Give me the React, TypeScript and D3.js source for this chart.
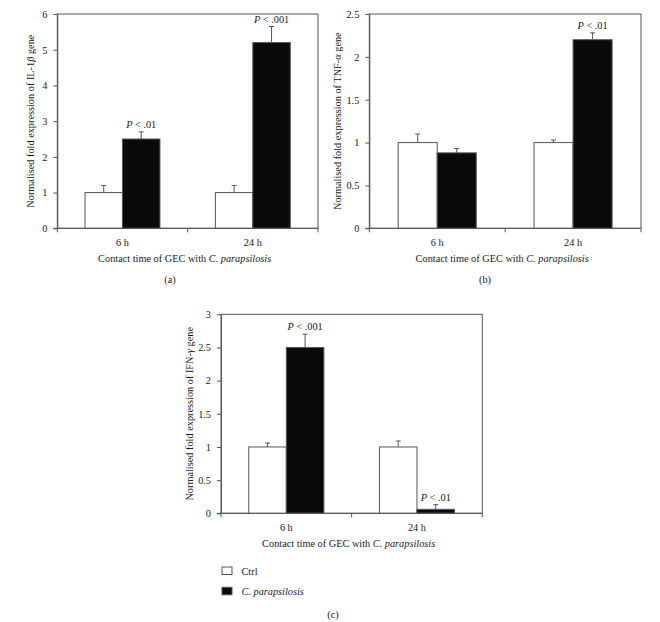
import { useEffect, useRef } from "react";
import * as d3 from "d3";

const WIDTH = 660;
const HEIGHT = 622;
const FONT = "Liberation Serif";
const FONT_SIZE = 10.3;
const LINE_COLOR = "#555555";
const TEXT_COLOR = "#1a1a1a";
const BAR_DARK = "#0a0a0c";
const BAR_LIGHT = "#ffffff";
const TICK_SIZE = 4;
const CAP_HALF = 2.5;

const CATEGORIES = ["6 h", "24 h"];
const SERIES = ["Ctrl", "C. parapsilosis"];
const X_TITLE = "Contact time of GEC with ";
const X_TITLE_ITALIC = "C. parapsilosis";

// (a) IL-1 beta
const IL1B_CTRL = [1, 1];
const IL1B_CTRL_ERR = [0.2, 0.2];
const IL1B_CP = [2.5, 5.2];
const IL1B_CP_ERR = [0.2, 0.45];
const IL1B_P = [".01", ".001"];
const IL1B_TICKS = [0, 1, 2, 3, 4, 5, 6];

// (b) TNF alpha
const TNF_CTRL = [1, 1];
const TNF_CTRL_ERR = [0.1, 0.03];
const TNF_CP = [0.88, 2.2];
const TNF_CP_ERR = [0.05, 0.08];
const TNF_P = ["", ".01"];
const TNF_TICKS = [0, 0.5, 1, 1.5, 2, 2.5];

// (c) IFN gamma
const IFN_CTRL = [1, 1];
const IFN_CTRL_ERR = [0.06, 0.09];
const IFN_CP = [2.5, 0.06];
const IFN_CP_ERR = [0.2, 0.07];
const IFN_P = [".001", ".01"];
const IFN_TICKS = [0, 0.5, 1, 1.5, 2, 2.5, 3];

interface Panel {
  ctrl: number[];
  ctrlErr: number[];
  cp: number[];
  cpErr: number[];
  pLabels: string[];
  ticks: number[];
  gene: string;
  greek: string;
  caption: string;
  box: { left: number; top: number; right: number; bottom: number };
  labelX: number;
  captionX: number;
  captionY: number;
}

const PANELS: Panel[] = [
  {
    ctrl: IL1B_CTRL, ctrlErr: IL1B_CTRL_ERR, cp: IL1B_CP, cpErr: IL1B_CP_ERR,
    pLabels: IL1B_P, ticks: IL1B_TICKS, gene: "IL-1", greek: "β", caption: "(a)",
    box: { left: 57.3, top: 14, right: 318, bottom: 228.3 }, labelX: 30.5, captionX: 170, captionY: 282.5,
  },
  {
    ctrl: TNF_CTRL, ctrlErr: TNF_CTRL_ERR, cp: TNF_CP, cpErr: TNF_CP_ERR,
    pLabels: TNF_P, ticks: TNF_TICKS, gene: "TNF-", greek: "α", caption: "(b)",
    box: { left: 369.3, top: 14, right: 641, bottom: 228.3 }, labelX: 337, captionX: 485, captionY: 282.5,
  },
  {
    ctrl: IFN_CTRL, ctrlErr: IFN_CTRL_ERR, cp: IFN_CP, cpErr: IFN_CP_ERR,
    pLabels: IFN_P, ticks: IFN_TICKS, gene: "IFN-", greek: "γ", caption: "(c)",
    box: { left: 221, top: 314.3, right: 482.3, bottom: 513.3 }, labelX: 189, captionX: 333, captionY: 617.5,
  },
];

function drawPanel(svg: d3.Selection<SVGSVGElement, unknown, null, undefined>, p: Panel) {
  const { left, top, right, bottom } = p.box;
  const g = svg.append("g");

  const x = d3.scaleBand().domain(CATEGORIES).range([left, right]);
  const xs = d3
    .scaleBand()
    .domain(SERIES)
    .range([0, x.bandwidth()])
    .paddingOuter(0.74);
  const y = d3
    .scaleLinear()
    .domain([0, p.ticks[p.ticks.length - 1]])
    .range([bottom, top]);

  // frame
  g.append("rect")
    .attr("x", left)
    .attr("y", top)
    .attr("width", right - left)
    .attr("height", bottom - top)
    .attr("fill", "none")
    .attr("stroke", LINE_COLOR)
    .attr("stroke-width", 1);

  const rows = CATEGORIES.flatMap((c, i) => [
    { cat: c, s: SERIES[0], v: p.ctrl[i], e: p.ctrlErr[i], fill: BAR_LIGHT, pl: "" },
    { cat: c, s: SERIES[1], v: p.cp[i], e: p.cpErr[i], fill: BAR_DARK, pl: p.pLabels[i] },
  ]);
  const barCenter = (d: { cat: string; s: string }) =>
    (x(d.cat) as number) + (xs(d.s) as number) + xs.bandwidth() / 2;

  // error bars (up only)
  rows.forEach((d) => {
    const cx = barCenter(d);
    g.append("line")
      .attr("x1", cx).attr("x2", cx)
      .attr("y1", y(d.v)).attr("y2", y(d.v + d.e))
      .attr("stroke", LINE_COLOR);
    g.append("line")
      .attr("x1", cx - CAP_HALF).attr("x2", cx + CAP_HALF)
      .attr("y1", y(d.v + d.e)).attr("y2", y(d.v + d.e))
      .attr("stroke", LINE_COLOR);
  });

  g.selectAll("rect.bar")
    .data(rows)
    .enter()
    .append("rect")
    .attr("class", "bar")
    .attr("x", (d) => (x(d.cat) as number) + (xs(d.s) as number))
    .attr("y", (d) => y(d.v))
    .attr("width", xs.bandwidth())
    .attr("height", (d) => bottom - y(d.v))
    .attr("fill", (d) => d.fill)
    .attr("stroke", LINE_COLOR)
    .attr("stroke-width", 1);

  // P labels
  rows
    .filter((d) => d.pl)
    .forEach((d) => {
      const t = g
        .append("text")
        .attr("x", barCenter(d))
        .attr("y", y(d.v + d.e) - 4)
        .attr("text-anchor", "middle")
        .attr("font-family", FONT)
        .attr("font-size", FONT_SIZE)
        .attr("fill", TEXT_COLOR);
      t.append("tspan").attr("font-style", "italic").text("P");
      t.append("tspan").text(" < " + d.pl);
    });

  // y axis
  g.append("g")
    .attr("transform", `translate(${left},0)`)
    .call(
      d3.axisLeft(y)
        .tickValues(p.ticks)
        .tickSize(TICK_SIZE)
        .tickSizeOuter(0)
        .tickPadding(6)
        .tickFormat(d3.format("~g") as any)
    )
    .call((a) => a.select(".domain").attr("stroke", LINE_COLOR))
    .call((a) => a.selectAll(".tick line").attr("stroke", LINE_COLOR))
    .call((a) =>
      a.selectAll(".tick text")
        .attr("font-family", FONT)
        .attr("font-size", FONT_SIZE)
        .attr("fill", TEXT_COLOR)
    );

  // x axis
  g.append("line")
    .attr("x1", left - TICK_SIZE).attr("x2", right)
    .attr("y1", bottom).attr("y2", bottom)
    .attr("stroke", LINE_COLOR);
  const edges = [...CATEGORIES.map((c) => x(c) as number), right];
  edges.forEach((ex) => {
    g.append("line")
      .attr("x1", ex).attr("x2", ex)
      .attr("y1", bottom).attr("y2", bottom + TICK_SIZE)
      .attr("stroke", LINE_COLOR);
  });
  g.append("g")
    .attr("transform", `translate(0,${bottom})`)
    .call(d3.axisBottom(x).tickSize(0).tickPadding(10))
    .call((a) => a.select(".domain").remove())
    .call((a) =>
      a.selectAll(".tick text")
        .attr("font-family", FONT)
        .attr("font-size", FONT_SIZE)
        .attr("fill", TEXT_COLOR)
    );

  // x title
  const xt = g
    .append("text")
    .attr("x", (left + right) / 2 - 3)
    .attr("y", bottom + 34)
    .attr("text-anchor", "middle")
    .attr("font-family", FONT)
    .attr("font-size", FONT_SIZE)
    .attr("fill", TEXT_COLOR);
  xt.append("tspan").text(X_TITLE);
  xt.append("tspan").attr("font-style", "italic").text(X_TITLE_ITALIC);

  // y title
  const yt = g
    .append("text")
    .attr("transform", `translate(${p.labelX},${(top + bottom) / 2}) rotate(-90)`)
    .attr("text-anchor", "middle")
    .attr("dy", "0.35em")
    .attr("font-family", FONT)
    .attr("font-size", FONT_SIZE)
    .attr("fill", TEXT_COLOR);
  yt.append("tspan").text("Normalised fold expression of " + p.gene);
  yt.append("tspan").attr("font-style", "italic").text(p.greek);
  yt.append("tspan").text(" gene");

  // caption
  g.append("text")
    .attr("x", p.captionX)
    .attr("y", p.captionY)
    .attr("text-anchor", "middle")
    .attr("font-family", FONT)
    .attr("font-size", FONT_SIZE)
    .attr("fill", TEXT_COLOR)
    .text(p.caption);
}

export default function App() {
  const svgRef = useRef<SVGSVGElement>(null);

  useEffect(() => {
    if (!svgRef.current) return;
    const svg = d3.select(svgRef.current);
    svg.selectAll("*").remove();

    svg.append("rect").attr("width", WIDTH).attr("height", HEIGHT).attr("fill", "#ffffff");

    PANELS.forEach((p) => drawPanel(svg, p));

    // legend
    const legend = svg.append("g").attr("transform", "translate(222,567)");
    SERIES.forEach((s, i) => {
      const item = legend.append("g").attr("transform", `translate(0,${i * 20.3})`);
      item.append("rect")
        .attr("width", 10)
        .attr("height", 7.5)
        .attr("fill", i === 0 ? BAR_LIGHT : BAR_DARK)
        .attr("stroke", LINE_COLOR);
      item.append("text")
        .attr("x", 19.5)
        .attr("y", 7.5)
        .attr("font-family", FONT)
        .attr("font-size", FONT_SIZE)
        .attr("font-style", i === 0 ? "normal" : "italic")
        .attr("fill", TEXT_COLOR)
        .text(s);
    });
  }, []);

  return (
    <svg
      ref={svgRef}
      width={WIDTH}
      height={HEIGHT}
      style={{ position: "absolute", left: 0, top: 0 }}
    ></svg>
  );
}
